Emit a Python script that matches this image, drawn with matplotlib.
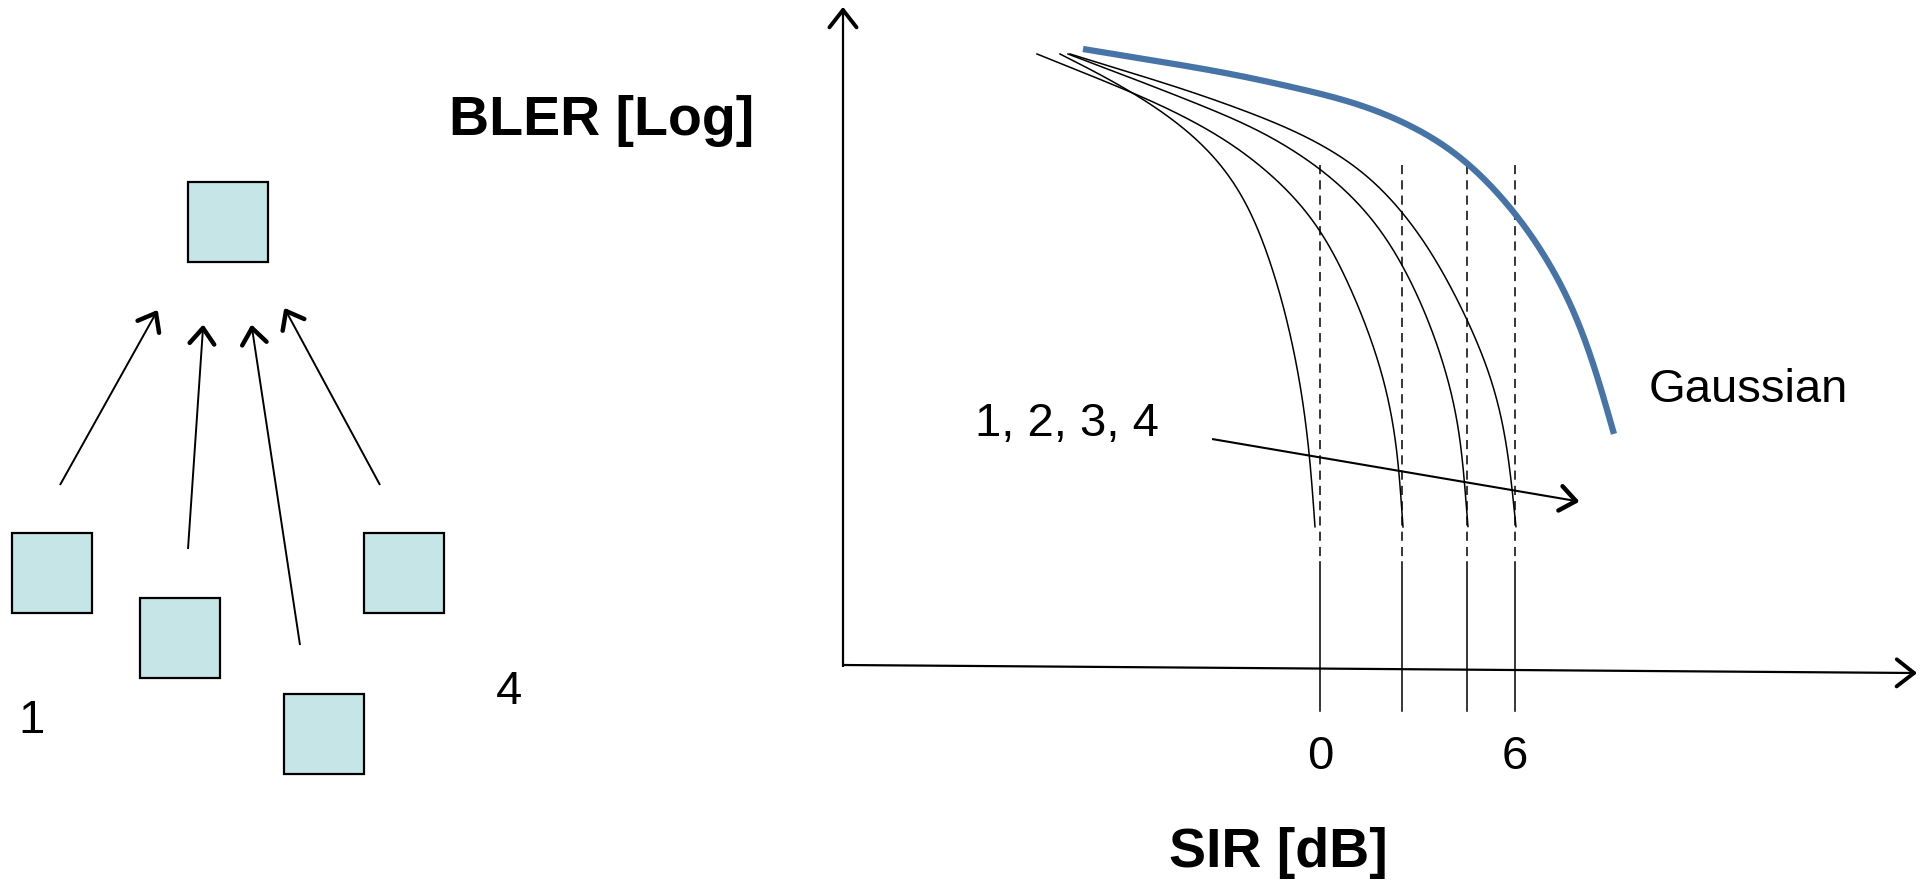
import numpy as np
import matplotlib
matplotlib.use("Agg")
import matplotlib.pyplot as plt
from matplotlib.patches import Rectangle

plt.rcParams['font.family'] = ['Liberation Sans', 'DejaVu Sans']

# left diagram: cells (left, top) and arrows (tail, head) in pixel space
box_size = 80
top_box = (188, 182)
cell_boxes = [(12, 533), (140, 598), (284, 694), (364, 533)]
cell_arrows = [((60, 485), (156, 313)),
               ((188, 549), (203, 328)),
               ((300, 645), (252, 328)),
               ((380, 485), (286, 311))]
cell_labels = [("1", 31, 721), ("4", 509, 692)]

# right chart: BLER curves per number of interferers (pixel space)
curve_1x = [1060, 1107, 1163, 1213, 1247, 1267, 1283, 1300, 1310, 1315]
curve_1y = [54, 77, 110, 150, 197, 250, 300, 377, 453, 527]
curve_2x = [1037, 1107, 1163, 1230, 1280, 1320, 1357, 1383, 1397, 1403]
curve_2y = [54, 82, 105, 140, 180, 223, 300, 370, 437, 527]
curve_3x = [1068, 1163, 1263, 1330, 1380, 1417, 1443, 1460, 1468]
curve_3y = [54, 90, 130, 173, 223, 290, 357, 423, 527]
curve_4x = [1070, 1197, 1297, 1363, 1403, 1432, 1467, 1493, 1507, 1516]
curve_4y = [54, 93, 130, 167, 210, 250, 317, 377, 437, 527]
gauss_x = [1083, 1230, 1363, 1430, 1469, 1524, 1567, 1592, 1614]
gauss_y = [49, 73, 103, 133, 160, 221, 291, 356, 434]

sir_lines = [1320, 1402, 1467, 1515]
sir_ticks = {"0": 1320, "6": 1515}


def smooth(xs, ys, sigma=38):
    # resample the read polyline every pixel, then gaussian-smooth along it
    p = np.column_stack([xs, ys]).astype(float)
    s = np.concatenate([[0], np.cumsum(np.linalg.norm(np.diff(p, axis=0), axis=1))])
    si = np.arange(0, s[-1] + 1e-9, 1.0)
    x = np.interp(si, s, p[:, 0])
    y = np.interp(si, s, p[:, 1])
    pad = int(3 * sigma)
    # odd reflection keeps the ends in place and their direction
    x = np.concatenate([2 * x[0] - x[pad:0:-1], x, 2 * x[-1] - x[-2:-pad - 2:-1]])
    y = np.concatenate([2 * y[0] - y[pad:0:-1], y, 2 * y[-1] - y[-2:-pad - 2:-1]])
    k = np.exp(-0.5 * (np.arange(-pad, pad + 1) / sigma) ** 2)
    k /= k.sum()
    x = np.convolve(x, k, mode="same")[pad:-pad]
    y = np.convolve(y, k, mode="same")[pad:-pad]
    return x, y


def arrow(ax, tail, head, lw=1.4, head_lw=3.2, head_len=20, ang=38):
    tail = np.array(tail, float)
    head = np.array(head, float)
    ax.plot([tail[0], head[0]], [tail[1], head[1]], color="black", lw=lw,
            solid_capstyle="butt")
    d = (tail - head) / np.linalg.norm(tail - head)
    for s in (1, -1):
        a = np.radians(ang * s)
        r = np.array([[np.cos(a), -np.sin(a)], [np.sin(a), np.cos(a)]]) @ d
        tip = head + r * head_len
        ax.plot([head[0], tip[0]], [head[1], tip[1]], color="black",
                lw=head_lw, solid_capstyle="round")


fig = plt.figure(figsize=(19.27, 8.81), dpi=100)
ax = fig.add_axes([0, 0, 1, 1])
ax.set_xlim(0, 1927)
ax.set_ylim(881, 0)
ax.axis("off")

# left diagram
for (x, y) in [top_box] + cell_boxes:
    ax.add_patch(Rectangle((x, y), box_size, box_size, facecolor="#c5e5e7",
                           edgecolor="black", lw=1.6))
for tail, head in cell_arrows:
    arrow(ax, tail, head)
for txt, x, y in cell_labels:
    ax.text(x, y, txt, fontsize=34, ha="center", va="center")

# axes of the BLER plot
arrow(ax, (843, 667), (843, 10), lw=1.6, head_lw=2.8, head_len=22)
arrow(ax, (843, 665), (1914, 673), lw=1.6, head_lw=2.8, head_len=22)

# SIR markers: dashed above, solid below
for x in sir_lines:
    ax.plot([x, x], [165, 558], color="black", lw=1.1, ls=(0, (6, 4)))
    ax.plot([x, x], [562, 711], color="black", lw=1.1)

for cx, cy in [(curve_1x, curve_1y), (curve_2x, curve_2y),
               (curve_3x, curve_3y), (curve_4x, curve_4y)]:
    sx, sy = smooth(cx, cy)
    ax.plot(sx, sy, color="black", lw=1.1)

gx, gy = smooth(gauss_x, gauss_y)
ax.plot(gx, gy, color="#4674a6", lw=4.5, solid_capstyle="butt")

arrow(ax, (1212, 439), (1576, 501), lw=1.5, head_lw=3.2, head_len=20)

ax.text(1067, 424, "1, 2, 3, 4", fontsize=34, ha="center", va="center")
ax.text(1748, 390, "Gaussian", fontsize=34, ha="center", va="center")
for txt, x in sir_ticks.items():
    ax.text(x, 757, txt, fontsize=34, ha="center", va="center")

ax.text(602, 121, "BLER [Log]", fontsize=40, fontweight="bold",
        ha="center", va="center")
ax.text(1278, 853, "SIR [dB]", fontsize=40, fontweight="bold",
        ha="center", va="center")

fig.savefig("out.png", dpi=100, facecolor="white")
